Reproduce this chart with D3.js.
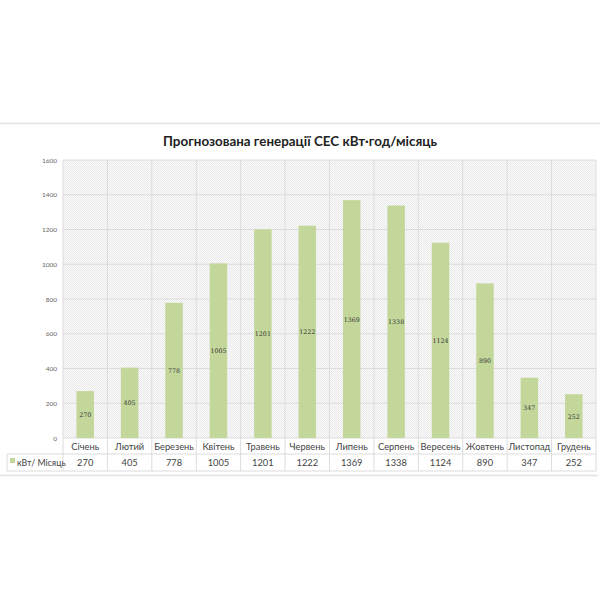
<!DOCTYPE html>
<html><head><meta charset="utf-8">
<script src="https://cdn.jsdelivr.net/npm/d3@7"></script>
<style>html,body{margin:0;padding:0;background:#fff;}svg{display:block;}</style>
</head><body>
<svg id="c" width="600" height="600"></svg>
<script>
const months = ["Січень","Лютий","Березень","Квітень","Травень","Червень","Липень","Серпень","Вересень","Жовтень","Листопад","Грудень"];
const values = [270,405,778,1005,1201,1222,1369,1338,1124,890,347,252];
const yTicks = [0,200,400,600,800,1000,1200,1400,1600];
const seriesName = "кВт/ Місяць";
const title = "Прогнозована генерації СЕС кВт·год/місяць";

const svg = d3.select("#c");
const L = 63, R = 596, T = 160, B = 438;
const row1 = 454, row2 = 471;
const font = "Lato, 'Noto Sans', sans-serif";

// outer frame lines
svg.append("line").attr("x1",0).attr("x2",600).attr("y1",123.5).attr("y2",123.5).attr("stroke","#e3e3e3").attr("stroke-width",1.5);
svg.append("line").attr("x1",0).attr("x2",598).attr("y1",475.5).attr("y2",475.5).attr("stroke","#e3e3e3").attr("stroke-width",1.5);

// pattern
const defs = svg.append("defs");
const pat = defs.append("pattern").attr("id","dots").attr("width",2).attr("height",2).attr("patternUnits","userSpaceOnUse");
pat.append("rect").attr("width",2).attr("height",2).attr("fill","#f9f9f9");
pat.append("rect").attr("width",1).attr("height",1).attr("fill","#ebebeb");
pat.append("rect").attr("x",1).attr("y",1).attr("width",1).attr("height",1).attr("fill","#ebebeb");

const x = d3.scaleBand().domain(months).range([L,R]).paddingInner(0).paddingOuter(0);
const y = d3.scaleLinear().domain([0,1600]).range([B,T]);

svg.append("text").attr("x",300).attr("y",146).attr("text-anchor","middle")
  .attr("font-family",font).attr("font-weight","bold").attr("font-size",14).attr("fill","#222")
  .attr("textLength",274).attr("lengthAdjust","spacingAndGlyphs").text(title);

svg.append("rect").attr("x",L).attr("y",T).attr("width",R-L).attr("height",B-T).attr("fill","url(#dots)");

// horizontal grid
svg.append("g").selectAll("line").data(yTicks).join("line")
  .attr("x1",L).attr("x2",R).attr("y1",d=>y(d)).attr("y2",d=>y(d))
  .attr("stroke","#dcdcdc").attr("stroke-width",1);

// vertical grid (through table)
const bounds = months.map(m=>x(m)).concat([R]);
svg.append("g").selectAll("line").data(bounds).join("line")
  .attr("x1",d=>d).attr("x2",d=>d).attr("y1",T).attr("y2",row2)
  .attr("stroke","#dcdcdc").attr("stroke-width",1);

// table lines
svg.append("line").attr("x1",7).attr("x2",R).attr("y1",row1).attr("y2",row1).attr("stroke","#dcdcdc");
svg.append("line").attr("x1",7).attr("x2",R).attr("y1",row2).attr("y2",row2).attr("stroke","#dcdcdc");
svg.append("line").attr("x1",7).attr("x2",7).attr("y1",row1).attr("y2",row2).attr("stroke","#dcdcdc");

// y axis labels
svg.append("g").selectAll("text").data(yTicks).join("text")
  .attr("x",57).attr("y",d=>y(d)+2.5).attr("text-anchor","end")
  .attr("font-family",font).attr("font-size",6.5).attr("fill","#666").text(d=>d);

// bars
const bw = 17.5;
svg.append("g").selectAll("rect").data(values).join("rect")
  .attr("x",(d,i)=>x(months[i])+x.bandwidth()/2-bw/2).attr("width",bw)
  .attr("y",d=>y(d)).attr("height",d=>B-y(d)).attr("fill","#c4d79b");

// bar labels
svg.append("g").selectAll("text").data(values).join("text")
  .attr("x",(d,i)=>x(months[i])+x.bandwidth()/2).attr("y",d=>(y(d)+B)/2+2.5)
  .attr("text-anchor","middle").attr("font-family","'DejaVu Serif', serif").attr("font-size",6.3)
  .attr("fill","#333").text(d=>d);

// month labels
svg.append("g").selectAll("text").data(months).join("text")
  .attr("x",m=>x(m)+x.bandwidth()/2).attr("y",450)
  .attr("text-anchor","middle").attr("font-family",font).attr("font-size",9.3).attr("fill","#444").text(m=>m);

// values row
svg.append("g").selectAll("text").data(values).join("text")
  .attr("x",(d,i)=>x(months[i])+x.bandwidth()/2).attr("y",466)
  .attr("text-anchor","middle").attr("font-family",font).attr("font-size",9.3).attr("fill","#444").text(d=>d);

// legend
svg.append("rect").attr("x",10).attr("y",458).attr("width",5).attr("height",5).attr("fill","#c4d79b");
svg.append("text").attr("x",17).attr("y",466).attr("font-family",font).attr("font-size",8.8).attr("fill","#444").text(seriesName);
</script>
</body></html>
